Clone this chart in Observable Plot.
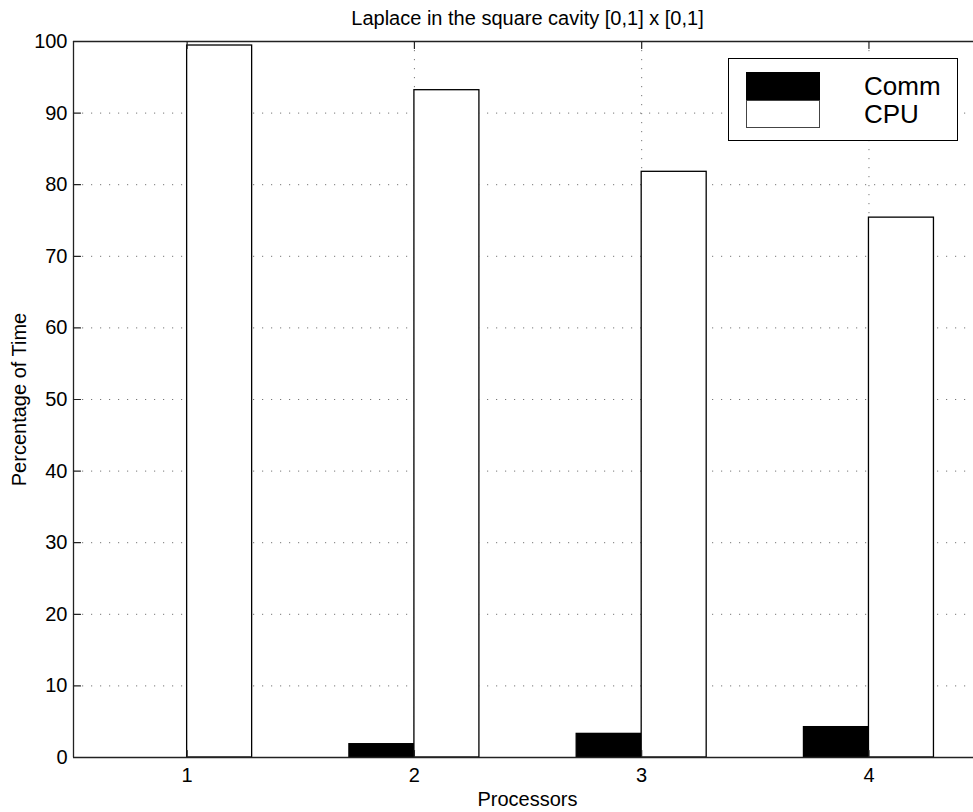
<!DOCTYPE html>
<html><head><meta charset="utf-8">
<script src="https://cdn.jsdelivr.net/npm/d3@7"></script>
<script src="https://cdn.jsdelivr.net/npm/@observablehq/plot@0.6"></script>
<style>
body{margin:0;background:#fff;}
#wrap{position:relative;width:973px;height:812px;overflow:hidden;font-family:"Liberation Sans",Arial,Helvetica,sans-serif;}
.abs{position:absolute;box-sizing:border-box;}
</style></head><body><div id="wrap"></div>
<script>
const processors = [1, 2, 3, 4];
const commPct = [0, 1.86, 3.3, 4.24];
const cpuPct = [99.44, 93.2, 81.8, 75.4];
const yTicks = [0, 10, 20, 30, 40, 50, 60, 70, 80, 90, 100];
const seriesNames = ["Comm", "CPU"];
const titleText = "Laplace in the square cavity [0,1] x [0,1]";
const xLabel = "Processors";
const yLabel = "Percentage of Time";

const rows = processors.flatMap((p, i) => [
  {p, series: seriesNames[0], v: commPct[i]},
  {p, series: seriesNames[1], v: cpuPct[i]}
]).filter(d => d.v > 0);

const barW = 0.286;
const xDomain = [0.5, 4.46];
const font = '"Liberation Sans", Arial, Helvetica, sans-serif';
const tickShape = {draw(ctx, l) { ctx.moveTo(0, 0); ctx.lineTo(0, -l); }};

const chart = Plot.plot({
  width: 973, height: 812,
  marginLeft: 73, marginRight: 0, marginTop: 41, marginBottom: 55,
  style: {fontFamily: font, fontSize: "20px", color: "#000", background: "#fff"},
  x: {domain: xDomain},
  y: {domain: [0, 100]},
  marks: [
    Plot.gridY(yTicks.filter(t => t > 0 && t < 100), {stroke: "#777", strokeOpacity: 1, strokeDasharray: "1.2,7.8"}),
    Plot.gridX(processors, {stroke: "#777", strokeOpacity: 1, strokeDasharray: "1.2,7.8"}),
    Plot.rectY(rows, {
      x1: d => d.series === "Comm" ? d.p - barW : d.p,
      x2: d => d.series === "Comm" ? d.p : d.p + barW,
      y1: 0, y2: "v",
      fill: d => d.series === "Comm" ? "#000" : "#fff",
      stroke: "#000", strokeWidth: 1.3
    }),
    Plot.ruleY([0, 100], {stroke: "#222", strokeWidth: 1.3}),
    Plot.ruleX([xDomain[0]], {stroke: "#222", strokeWidth: 1.3}),
    Plot.vector(yTicks, {y: d => d, frameAnchor: "left", rotate: 90, length: 7, anchor: "start", shape: tickShape, stroke: "#222", strokeWidth: 1.2}),
    Plot.vector(processors, {x: d => d, frameAnchor: "bottom", rotate: 0, length: 7, anchor: "start", shape: tickShape, stroke: "#222", strokeWidth: 1.2}),
    Plot.vector(processors, {x: d => d, frameAnchor: "top", rotate: 180, length: 7, anchor: "start", shape: tickShape, stroke: "#222", strokeWidth: 1.2}),
    Plot.axisY({ticks: yTicks, tickSize: 0, tickPadding: 6, label: null, fontSize: 20}),
    Plot.axisX({ticks: processors, tickSize: 0, tickPadding: 10, label: null, fontSize: 20, tickFormat: d => String(d)}),
    Plot.text([titleText], {text: d => d, frameAnchor: "top", lineAnchor: "middle", dx: 4, dy: -23, fontSize: 20}),
    Plot.text([xLabel], {text: d => d, frameAnchor: "bottom", lineAnchor: "middle", dx: 4, dy: 42, fontSize: 20}),
    Plot.text([yLabel], {text: d => d, frameAnchor: "left", textAnchor: "middle", lineAnchor: "middle", dx: -54, rotate: -90, fontSize: 20})
  ]
});

const wrap = document.getElementById("wrap");
wrap.appendChild(chart);

// legend
function box(css) { const d = document.createElement("div"); d.className = "abs"; d.style.cssText = css; wrap.appendChild(d); return d; }
box("left:728px;top:58px;width:230px;height:83px;border:1px solid #000;background:#fff;");
box("left:746px;top:72px;width:74px;height:29px;background:#000;border:1px solid #000;");
box("left:746px;top:100px;width:74px;height:28px;background:#fff;border:1px solid #444;");
const t1 = box("left:864px;top:71px;font-size:26px;line-height:30px;color:#000;");
t1.textContent = seriesNames[0];
const t2 = box("left:864px;top:99px;font-size:26px;line-height:30px;color:#000;");
t2.textContent = seriesNames[1];
</script></body></html>
